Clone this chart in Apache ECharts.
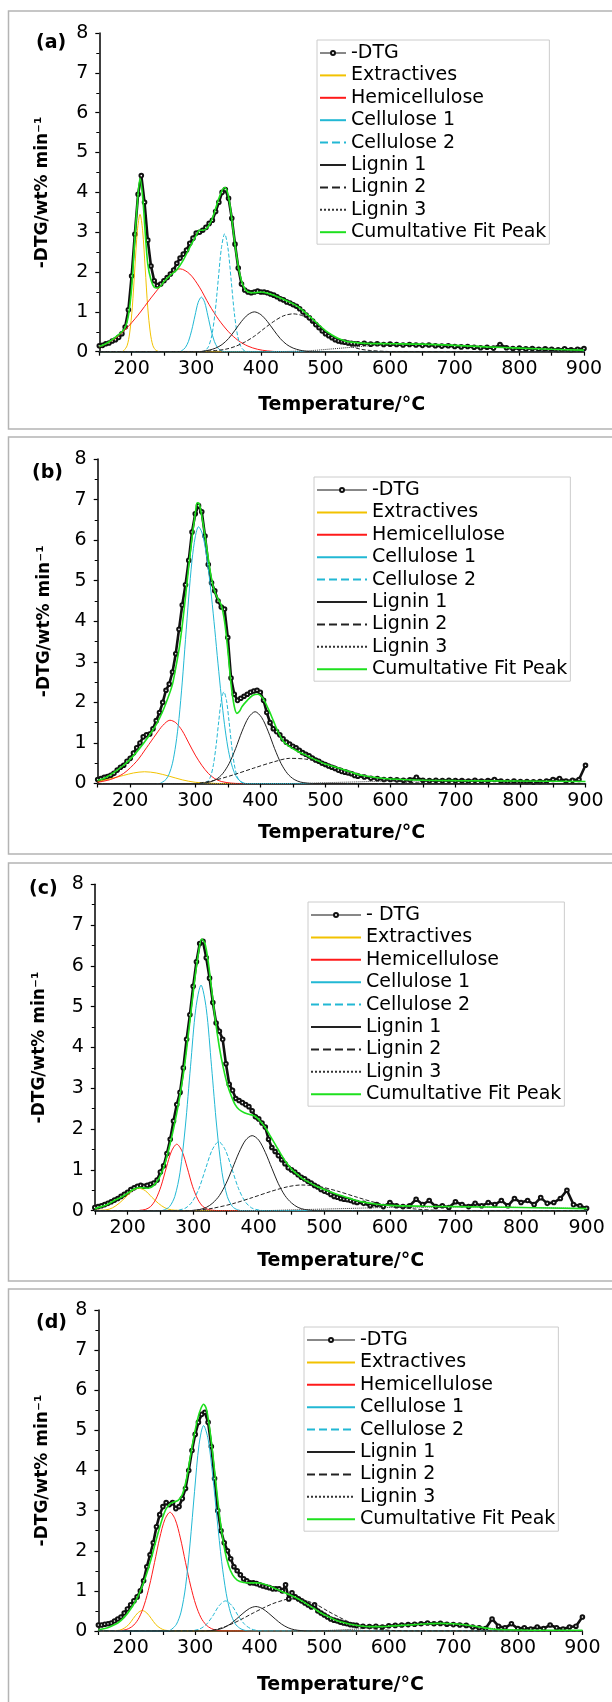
<!DOCTYPE html>
<html><head><meta charset="utf-8">
<script src="https://cdn.jsdelivr.net/npm/echarts@6/dist/echarts.min.js"></script>
<style>html,body{margin:0;padding:0;background:#fff}#c{width:612px;height:1702px}</style>
</head><body><div id="c"></div><script>
// ---------- DATA ----------
const PANEL_LABELS = ['(a)', '(b)', '(c)', '(d)'];
const X_TITLE = 'Temperature/°C';
const Y_TITLE = '-DTG/wt% min⁻¹';
const NAMES = ['-DTG','Extractives','Hemicellulose','Cellulose 1','Cellulose 2','Lignin 1','Lignin 2','Lignin 3','Cumultative Fit Peak'];
const DTG_NAME_C = '- DTG';

const TEMP_DTG = [150,155,160,165,170,175,180,185,190,195,200,205,210,215,220,225,230,235,240,245,250,255,260,265,270,275,280,285,290,295,300,305,310,315,320,325,330,335,340,345,350,355,360,365,370,375,380,385,390,395,400,405,410,415,420,425,430,435,440,445,450,455,460,465,470,475,480,485,490,495,500,505,510,515,520,525,530,535,540,545,550,560,570,580,590,600,610,620,630,640,650,660,670,680,690,700,710,720,730,740,750,760,770,780,790,800,810,820,830,840,850,860,870,880,890,900];

const A_DTG = [0.15,0.16,0.2,0.22,0.27,0.3,0.36,0.45,0.62,1.05,1.9,2.95,3.95,4.42,3.75,2.8,2.15,1.78,1.66,1.7,1.78,1.86,1.95,2.05,2.22,2.35,2.45,2.55,2.72,2.85,2.98,3.0,3.05,3.12,3.22,3.3,3.52,3.75,4.0,4.07,3.85,3.35,2.7,2.1,1.7,1.55,1.5,1.48,1.5,1.52,1.5,1.5,1.48,1.45,1.42,1.38,1.33,1.3,1.25,1.22,1.18,1.14,1.08,1.0,0.92,0.85,0.77,0.68,0.6,0.52,0.45,0.4,0.35,0.3,0.27,0.25,0.24,0.22,0.21,0.2,0.2,0.21,0.19,0.2,0.18,0.19,0.18,0.17,0.18,0.17,0.16,0.17,0.15,0.14,0.15,0.13,0.12,0.13,0.11,0.1,0.11,0.09,0.18,0.1,0.08,0.09,0.07,0.08,0.06,0.07,0.06,0.05,0.07,0.05,0.06,0.08];
const B_DTG = [0.1,0.12,0.15,0.17,0.2,0.25,0.33,0.4,0.45,0.55,0.62,0.75,0.88,1.0,1.15,1.2,1.22,1.35,1.55,1.75,2.0,2.3,2.45,2.75,3.2,3.8,4.4,4.9,5.5,6.2,6.65,6.85,6.7,6.1,5.4,4.95,4.75,4.5,4.35,4.3,3.6,2.6,2.2,2.05,2.1,2.15,2.2,2.25,2.28,2.3,2.25,2.05,1.75,1.5,1.35,1.28,1.2,1.1,1.02,0.97,0.92,0.88,0.82,0.76,0.72,0.68,0.63,0.58,0.55,0.5,0.47,0.43,0.4,0.37,0.33,0.3,0.28,0.26,0.24,0.2,0.18,0.16,0.13,0.12,0.1,0.1,0.09,0.08,0.09,0.15,0.08,0.07,0.08,0.07,0.08,0.07,0.07,0.06,0.08,0.06,0.07,0.1,0.06,0.05,0.06,0.05,0.05,0.04,0.05,0.06,0.1,0.12,0.06,0.08,0.1,0.45];
const C_DTG = [0.08,0.1,0.12,0.15,0.18,0.22,0.26,0.3,0.35,0.4,0.45,0.52,0.56,0.6,0.62,0.6,0.62,0.65,0.68,0.75,0.95,1.1,1.4,1.75,2.2,2.6,2.9,3.5,4.2,4.8,5.5,6.1,6.55,6.6,6.2,5.7,5.1,4.6,4.4,4.2,3.6,3.1,2.95,2.75,2.7,2.65,2.6,2.55,2.45,2.3,2.25,2.15,2.05,1.75,1.55,1.45,1.35,1.25,1.15,1.05,1.0,0.95,0.88,0.82,0.78,0.72,0.68,0.62,0.58,0.52,0.48,0.45,0.4,0.35,0.33,0.3,0.28,0.27,0.25,0.22,0.2,0.18,0.12,0.15,0.1,0.2,0.12,0.1,0.12,0.28,0.15,0.25,0.1,0.12,0.08,0.22,0.15,0.1,0.18,0.12,0.2,0.15,0.25,0.12,0.3,0.2,0.25,0.15,0.32,0.18,0.2,0.3,0.5,0.15,0.12,0.06];
const D_DTG = [0.15,0.15,0.17,0.18,0.2,0.25,0.3,0.35,0.45,0.55,0.65,0.75,0.85,1.0,1.25,1.6,1.9,2.2,2.6,2.9,3.1,3.2,3.15,3.2,3.05,3.1,3.3,3.55,4.0,4.5,4.9,5.2,5.4,5.45,5.2,4.6,3.8,3.0,2.5,2.2,2.0,1.8,1.6,1.5,1.4,1.3,1.25,1.2,1.2,1.18,1.15,1.12,1.1,1.08,1.05,1.05,1.05,1.0,1.15,0.8,0.95,0.85,0.8,0.75,0.7,0.65,0.6,0.65,0.5,0.45,0.4,0.35,0.3,0.27,0.25,0.22,0.2,0.18,0.16,0.15,0.14,0.12,0.11,0.12,0.1,0.13,0.14,0.15,0.16,0.17,0.18,0.2,0.18,0.19,0.17,0.16,0.15,0.14,0.1,0.08,0.06,0.3,0.12,0.08,0.18,0.06,0.08,0.05,0.1,0.06,0.15,0.08,0.05,0.1,0.12,0.35];

// component peaks: [temperature, value]
const A_EXT = [[150,0],[185,0],[188,0.03],[193,0.15],[197,0.47],[201,1.1],[205,2.1],[209,3.05],[213,3.45],[217,3.05],[221,2.1],[225,1.1],[229,0.47],[233,0.15],[238,0.03],[245,0],[900,0]];
const A_HEMI = [[150,0.12],[170,0.28],[190,0.55],[210,0.92],[230,1.35],[250,1.75],[265,2.0],[275,2.08],[290,1.95],[305,1.62],[320,1.18],[335,0.8],[350,0.5],[365,0.28],[380,0.14],[395,0.06],[410,0.02],[430,0],[900,0]];
const A_CEL1 = [[150,0],[275,0],[278,0.03],[283,0.1],[288,0.26],[293,0.54],[298,0.9],[303,1.24],[308,1.37],[313,1.24],[318,0.9],[323,0.54],[328,0.26],[333,0.1],[338,0.03],[345,0],[900,0]];
const A_CEL2 = [[150,0],[310,0],[314,0.03],[319,0.13],[324,0.4],[329,0.96],[334,1.8],[339,2.61],[344,2.96],[349,2.61],[354,1.8],[359,0.96],[364,0.4],[369,0.13],[374,0.03],[380,0],[900,0]];
const A_LIG1 = [[150,0],[305,0],[310,0.01],[320,0.04],[330,0.09],[340,0.18],[350,0.33],[360,0.54],[370,0.76],[380,0.93],[390,1.0],[400,0.93],[410,0.76],[420,0.54],[430,0.33],[440,0.18],[450,0.09],[460,0.04],[470,0.01],[480,0],[900,0]];
const A_LIG2 = [[150,0],[300,0],[320,0.02],[330,0.03],[345,0.06],[360,0.13],[375,0.24],[390,0.39],[405,0.58],[420,0.76],[435,0.9],[450,0.95],[465,0.9],[480,0.76],[495,0.58],[510,0.39],[525,0.24],[540,0.13],[555,0.06],[570,0.03],[590,0.01],[610,0],[900,0]];
const A_LIG3 = [[150,0],[420,0],[450,0.01],[480,0.03],[510,0.07],[540,0.11],[570,0.15],[600,0.17],[640,0.18],[680,0.17],[720,0.15],[760,0.12],[800,0.09],[850,0.06],[900,0.04]];
const A_FIT = [[150,0.13],[160,0.2],[170,0.3],[180,0.43],[185,0.5],[190,0.6],[195,0.9],[200,1.6],[205,2.85],[209,3.75],[213,4.35],[217,3.9],[221,3.0],[225,2.2],[230,1.8],[235,1.62],[240,1.6],[245,1.65],[250,1.76],[260,1.92],[270,2.06],[280,2.3],[290,2.62],[300,2.92],[305,3.05],[310,3.05],[315,3.08],[320,3.18],[325,3.35],[330,3.6],[335,3.85],[340,4.05],[344,4.12],[348,4.02],[352,3.7],[356,3.2],[360,2.68],[365,2.15],[370,1.78],[375,1.58],[380,1.5],[390,1.48],[400,1.5],[410,1.47],[420,1.42],[430,1.35],[440,1.28],[450,1.2],[460,1.1],[470,0.96],[480,0.82],[490,0.67],[500,0.53],[510,0.42],[520,0.33],[530,0.27],[540,0.24],[560,0.21],[600,0.2],[650,0.19],[700,0.16],[750,0.12],[800,0.09],[850,0.06],[900,0.04]];

const B_EXT = [[150,0.05],[170,0.12],[190,0.2],[205,0.26],[222,0.29],[240,0.26],[260,0.18],[280,0.09],[300,0.03],[320,0.01],[340,0],[900,0]];
const B_HEMI = [[150,0.03],[170,0.1],[190,0.25],[210,0.55],[225,0.88],[240,1.22],[250,1.43],[261,1.56],[270,1.5],[280,1.3],[290,1.0],[300,0.7],[310,0.45],[320,0.25],[330,0.12],[340,0.05],[355,0.01],[370,0],[900,0]];
const B_CEL1 = [[150,0],[245,0],[250,0.04],[255,0.1],[260,0.24],[265,0.5],[270,0.95],[275,1.6],[280,2.5],[285,3.55],[290,4.6],[295,5.5],[300,6.08],[305,6.33],[310,6.2],[315,5.85],[320,5.3],[325,4.6],[330,3.8],[335,2.95],[340,2.15],[345,1.45],[350,0.9],[355,0.52],[360,0.27],[365,0.12],[370,0.05],[378,0],[900,0]];
const B_CEL2 = [[150,0],[314,0],[316,0.02],[320,0.07],[324,0.19],[328,0.47],[332,0.93],[336,1.52],[340,2.05],[344,2.26],[348,2.05],[352,1.52],[356,0.93],[360,0.47],[364,0.19],[368,0.07],[372,0.02],[378,0],[900,0]];
const B_LIG1 = [[150,0],[305,0],[312,0.01],[322,0.035],[332,0.1],[342,0.24],[352,0.49],[362,0.86],[372,1.29],[382,1.63],[392,1.77],[402,1.63],[412,1.29],[422,0.86],[432,0.49],[442,0.24],[452,0.1],[462,0.035],[472,0.01],[480,0],[900,0]];
const B_LIG2 = [[150,0],[300,0],[310,0.02],[330,0.08],[360,0.22],[390,0.38],[420,0.53],[445,0.62],[470,0.6],[500,0.5],[530,0.35],[560,0.2],[590,0.1],[620,0.04],[650,0.01],[680,0],[900,0]];
const B_LIG3 = [[150,0],[450,0],[500,0.02],[550,0.04],[600,0.06],[700,0.06],[800,0.05],[900,0.05]];
const B_FIT = [[150,0.08],[160,0.13],[170,0.22],[180,0.33],[190,0.45],[200,0.6],[210,0.78],[220,0.98],[230,1.2],[240,1.45],[250,1.78],[260,2.2],[265,2.45],[270,2.85],[275,3.3],[280,3.9],[285,4.6],[290,5.35],[295,6.05],[300,6.65],[303,6.92],[306,6.9],[310,6.6],[315,6.1],[320,5.55],[325,5.05],[330,4.72],[335,4.55],[340,4.4],[345,4.0],[350,3.3],[355,2.45],[360,1.9],[364,1.73],[368,1.78],[372,1.9],[380,2.05],[388,2.17],[396,2.2],[404,2.1],[412,1.85],[420,1.55],[428,1.25],[436,1.03],[444,0.92],[452,0.84],[460,0.77],[470,0.7],[480,0.62],[490,0.55],[500,0.48],[510,0.43],[520,0.38],[530,0.33],[545,0.25],[560,0.19],[580,0.14],[600,0.11],[650,0.08],[700,0.07],[800,0.06],[900,0.05]];

const C_EXT = [[150,0.01],[167,0.02],[177,0.07],[187,0.18],[197,0.33],[207,0.49],[217,0.55],[227,0.49],[237,0.33],[247,0.18],[257,0.07],[267,0.02],[277,0.01],[290,0],[900,0]];
const C_HEMI = [[150,0],[215,0],[219,0.01],[227,0.03],[235,0.1],[243,0.28],[251,0.6],[259,1.05],[267,1.46],[275,1.63],[283,1.46],[291,1.05],[299,0.6],[307,0.28],[315,0.1],[323,0.03],[331,0.01],[340,0],[900,0]];
const C_CEL1 = [[150,0],[250,0],[256,0.02],[264,0.1],[272,0.35],[280,0.94],[288,2.05],[296,3.54],[304,4.95],[312,5.53],[320,4.95],[328,3.54],[336,2.05],[344,0.94],[352,0.35],[360,0.1],[368,0.02],[376,0],[900,0]];
const C_CEL2 = [[150,0],[270,0],[279,0.02],[289,0.07],[299,0.23],[309,0.55],[319,1.03],[329,1.49],[339,1.69],[349,1.49],[359,1.03],[369,0.55],[379,0.23],[389,0.07],[399,0.02],[410,0],[900,0]];
const C_LIG1 = [[150,0],[295,0],[300,0.01],[310,0.03],[320,0.08],[330,0.19],[340,0.37],[350,0.66],[360,1.04],[370,1.43],[380,1.73],[390,1.84],[400,1.73],[410,1.43],[420,1.04],[430,0.66],[440,0.37],[450,0.19],[460,0.08],[470,0.03],[480,0.01],[490,0],[900,0]];
const C_LIG2 = [[150,0],[295,0],[310,0.02],[330,0.06],[360,0.17],[390,0.32],[420,0.48],[445,0.59],[465,0.63],[490,0.6],[520,0.48],[550,0.33],[580,0.19],[610,0.09],[640,0.04],[670,0.01],[700,0],[900,0]];
const C_LIG3 = [[150,0],[400,0],[450,0.02],[500,0.04],[550,0.06],[600,0.08],[700,0.09],[800,0.08],[900,0.05]];
const C_FIT = [[150,0.05],[160,0.1],[170,0.16],[180,0.25],[190,0.33],[200,0.43],[210,0.53],[217,0.57],[225,0.56],[232,0.55],[240,0.62],[248,0.8],[255,1.05],[262,1.45],[270,2.0],[278,2.65],[286,3.45],[294,4.5],[302,5.6],[308,6.3],[313,6.66],[318,6.55],[323,6.1],[328,5.45],[334,4.65],[340,4.0],[346,3.5],[352,3.1],[358,2.82],[364,2.6],[370,2.48],[378,2.4],[386,2.36],[394,2.32],[402,2.2],[410,2.04],[418,1.82],[426,1.6],[434,1.38],[442,1.18],[450,1.02],[458,0.9],[466,0.8],[476,0.7],[488,0.6],[500,0.52],[515,0.43],[530,0.35],[545,0.27],[560,0.21],[580,0.16],[600,0.13],[650,0.11],[700,0.1],[800,0.08],[900,0.05]];

const D_EXT = [[150,0],[172,0],[176,0.01],[183,0.02],[190,0.07],[197,0.16],[204,0.31],[211,0.45],[218,0.51],[225,0.45],[232,0.31],[239,0.16],[246,0.07],[253,0.02],[260,0.01],[268,0],[900,0]];
const D_HEMI = [[150,0],[180,0],[189,0.02],[197,0.06],[205,0.15],[213,0.33],[221,0.65],[229,1.12],[237,1.71],[245,2.32],[253,2.78],[261,2.96],[269,2.78],[277,2.32],[285,1.71],[293,1.12],[301,0.65],[309,0.33],[317,0.15],[325,0.06],[333,0.02],[342,0],[900,0]];
const D_CEL1 = [[150,0],[258,0],[264,0.05],[271,0.17],[278,0.47],[285,1.1],[292,2.17],[299,3.48],[306,4.65],[313,5.12],[320,4.78],[327,3.89],[334,2.78],[341,1.73],[348,0.94],[355,0.44],[362,0.18],[369,0.07],[376,0.02],[385,0],[900,0]];
const D_CEL2 = [[150,0],[292,0],[297,0.01],[307,0.05],[317,0.16],[327,0.37],[337,0.63],[347,0.75],[357,0.63],[367,0.37],[377,0.16],[387,0.05],[397,0.01],[405,0],[900,0]];
const D_LIG1 = [[150,0],[320,0],[324,0.01],[334,0.03],[344,0.08],[354,0.17],[364,0.3],[374,0.44],[384,0.56],[394,0.61],[404,0.56],[414,0.44],[424,0.3],[434,0.17],[444,0.08],[454,0.03],[464,0.01],[475,0],[900,0]];
const D_LIG2 = [[150,0],[315,0],[330,0.03],[345,0.1],[360,0.2],[375,0.32],[390,0.45],[405,0.57],[420,0.68],[435,0.76],[445,0.8],[460,0.8],[475,0.74],[490,0.64],[505,0.5],[520,0.37],[535,0.25],[550,0.15],[570,0.07],[590,0.03],[610,0.01],[630,0],[900,0]];
const D_LIG3 = [[150,0],[450,0],[500,0.01],[540,0.04],[580,0.08],[620,0.13],[660,0.17],[690,0.17],[720,0.14],[750,0.08],[780,0.04],[820,0.01],[860,0],[900,0]];
const D_FIT = [[150,0.03],[160,0.06],[170,0.12],[180,0.2],[190,0.34],[200,0.55],[210,0.82],[220,1.2],[230,1.7],[240,2.3],[248,2.75],[255,3.05],[262,3.18],[268,3.22],[274,3.26],[280,3.4],[286,3.75],[292,4.3],[298,4.85],[304,5.3],[309,5.55],[313,5.65],[317,5.55],[322,5.1],[328,4.3],[334,3.4],[340,2.6],[346,2.0],[352,1.62],[358,1.4],[365,1.27],[375,1.21],[385,1.2],[395,1.2],[405,1.18],[415,1.12],[425,1.05],[435,0.98],[445,0.91],[455,0.84],[465,0.75],[475,0.65],[485,0.55],[495,0.45],[505,0.37],[515,0.29],[525,0.23],[540,0.17],[560,0.12],[580,0.11],[600,0.12],[620,0.14],[640,0.16],[660,0.18],[680,0.19],[700,0.18],[720,0.15],[740,0.1],[760,0.05],[780,0.03],[820,0.02],[900,0.02]];

// ---------- LAYOUT / STYLE ----------
const FONT = '"DejaVu Sans", "Liberation Sans", sans-serif';
const PANELS = [
  {dtg:A_DTG, comps:[A_EXT,A_HEMI,A_CEL1,A_CEL2,A_LIG1,A_LIG2,A_LIG3,A_FIT], dtgName:NAMES[0],
   grid:{left:99.3, top:33, width:484.7, height:318.7}, frame:{y:11, h:418},
   legend:{left:317, top:40, w:26}, label:{x:36, y:43}, yGap:48, xGap:44},
  {dtg:B_DTG, comps:[B_EXT,B_HEMI,B_CEL1,B_CEL2,B_LIG1,B_LIG2,B_LIG3,B_FIT], dtgName:NAMES[0],
   grid:{left:97.7, top:459, width:487.8, height:324.5}, frame:{y:437, h:417},
   legend:{left:314, top:477, w:50}, label:{x:32, y:473}, yGap:45, xGap:40},
  {dtg:C_DTG, comps:[C_EXT,C_HEMI,C_CEL1,C_CEL2,C_LIG1,C_LIG2,C_LIG3,C_FIT], dtgName:DTG_NAME_C,
   grid:{left:94.8, top:884.3, width:491.8, height:326.4}, frame:{y:863, h:418},
   legend:{left:308, top:902, w:50}, label:{x:29, y:889}, yGap:47, xGap:41},
  {dtg:D_DTG, comps:[D_EXT,D_HEMI,D_CEL1,D_CEL2,D_LIG1,D_LIG2,D_LIG3,D_FIT], dtgName:NAMES[0],
   grid:{left:98.4, top:1310, width:484, height:321}, frame:{y:1289, h:440},
   legend:{left:304, top:1327, w:48}, label:{x:36, y:1323}, yGap:47, xGap:45}
];
const COMP_STYLES = [
  {color:'#F2C200', type:'solid', width:1},
  {color:'#FF1A1A', type:'solid', width:1},
  {color:'#22B8D4', type:'solid', width:1},
  {color:'#22B8D4', type:'dashed', width:1},
  {color:'#222222', type:'solid', width:1},
  {color:'#222222', type:'dashed', width:1},
  {color:'#333333', type:'dotted', width:1},
  {color:'#1EE01E', type:'solid', width:1.6}
];

const grid = [], xAxis = [], yAxis = [], series = [], legend = [], graphic = [];
PANELS.forEach((p, i) => {
  grid.push(Object.assign({containLabel:false}, p.grid));
  xAxis.push({
    gridIndex:i, type:'value', min:150, max:900, interval:50,
    name:X_TITLE, nameLocation:'middle', nameGap:p.xGap,
    nameTextStyle:{fontFamily:FONT, fontWeight:'bold', fontSize:19, color:'#000'},
    axisLine:{show:true, onZero:false, lineStyle:{color:'#000', width:1.5}},
    axisTick:{show:true, interval:0, length:4, lineStyle:{color:'#000', width:1.2}},
    axisLabel:{interval:0, margin:8, fontFamily:FONT, fontSize:19, color:'#000',
      formatter: v => (v % 100 === 0 ? String(v) : '')},
    splitLine:{show:false}
  });
  yAxis.push({
    gridIndex:i, type:'value', min:0, max:8, interval:1,
    name:Y_TITLE, nameLocation:'middle', nameGap:p.yGap,
    nameTextStyle:{fontFamily:FONT, fontWeight:'bold', fontSize:17, color:'#000'},
    axisLine:{show:true, lineStyle:{color:'#000', width:1.5}},
    axisTick:{show:true, length:4, lineStyle:{color:'#000', width:1.2}},
    minorTick:{show:true, splitNumber:2, length:3, lineStyle:{color:'#000', width:1}},
    axisLabel:{margin:11, fontFamily:FONT, fontSize:19, color:'#000'},
    splitLine:{show:false}
  });
  series.push({
    name:p.dtgName, type:'line', xAxisIndex:i, yAxisIndex:i, z:1,
    data: TEMP_DTG.map((t, k) => [t, p.dtg[k]]),
    symbol:'emptyCircle', symbolSize:3.6, showSymbol:true, showAllSymbol:true,
    itemStyle:{color:'#111', borderWidth:0.9},
    lineStyle:{color:'#111', width:2.6}, silent:true, animation:false
  });
  p.comps.forEach((d, k) => {
    const s = COMP_STYLES[k];
    series.push({
      name:NAMES[k+1], type:'line', xAxisIndex:i, yAxisIndex:i, z:3,
      data:d, symbol:'none', showSymbol:false, smooth:0.3,
      itemStyle:{color:s.color},
      lineStyle:{color:s.color, type:s.type, width:s.width}, silent:true, animation:false
    });
  });
  const names = [p.dtgName].concat(NAMES.slice(1));
  legend.push({
    orient:'vertical', left:p.legend.left, top:p.legend.top,
    itemWidth:p.legend.w, itemHeight:5, itemGap:0.4, selectedMode:false,
    padding:[2,3,1,2], borderColor:'#cccccc', borderWidth:1, backgroundColor:'#fff',
    textStyle:{fontFamily:FONT, fontSize:19, color:'#000', lineHeight:22},
    data: names.map((n, k) => k === 0
      ? {name:n, lineStyle:{width:1}, itemStyle:{borderWidth:1}}
      : {name:n, itemStyle:{opacity:0}})
  });
  graphic.push({type:'rect', silent:true, z:-10,
    shape:{x:8.5, y:p.frame.y, width:700, height:p.frame.h},
    style:{fill:'none', stroke:'#b4b4b4', lineWidth:1.5}});
  graphic.push({type:'text', silent:true, x:p.label.x, y:p.label.y,
    style:{text:PANEL_LABELS[i], fontFamily:FONT, fontWeight:'bold', fontSize:19, fill:'#000', verticalAlign:'middle'}});
});

const chart = echarts.init(document.getElementById('c'), null, {renderer:'canvas'});
chart.setOption({animation:false, backgroundColor:'#fff', grid, xAxis, yAxis, series, legend, graphic});
</script></body></html>
